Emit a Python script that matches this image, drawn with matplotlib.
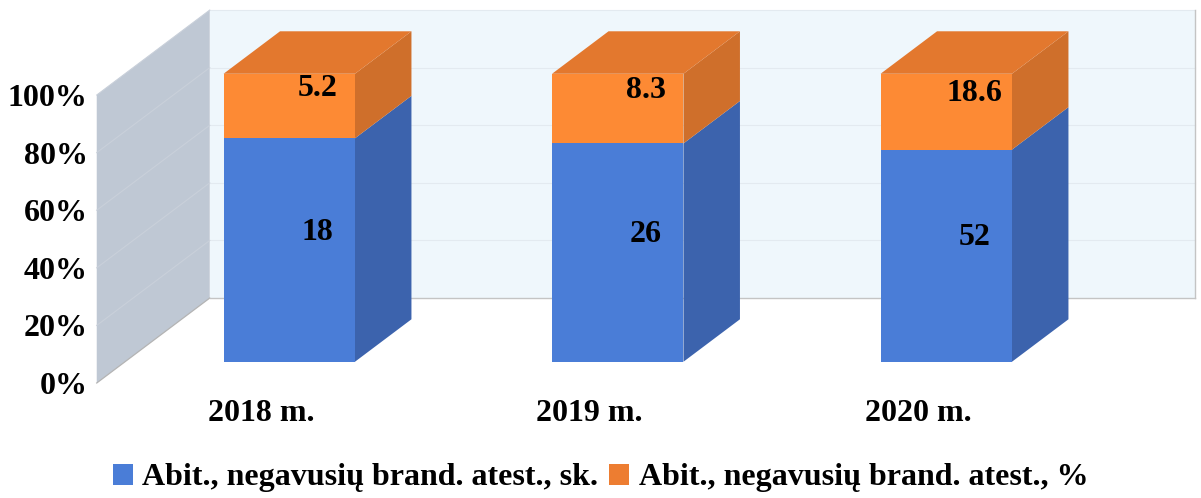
import numpy as np
import matplotlib.pyplot as plt
from matplotlib.patches import Polygon, Patch

years = ['2018 m.', '2019 m.', '2020 m.']
count_values = np.array([18, 26, 52])
pct_values = np.array([5.2, 8.3, 18.6])
series_names = ['Abit., negavusių brand. atest., sk.',
                'Abit., negavusių brand. atest., %']
y_ticks = [0, 20, 40, 60, 80, 100]

plt.rcParams['font.family'] = ['Liberation Serif', 'DejaVu Serif']
plt.rcParams['font.weight'] = 'bold'
FS = 23

# 100% stacked shares
blue_share = count_values / (count_values + pct_values) * 100
orange_share = 100 - blue_share

# fake 3d: depth offset of the whole floor (category units, percent units)
DX = 0.344
DY = 29.5
BW = 0.40  # bar width
D0, D1 = 0.25, 0.75  # bar depth range

blue_front, blue_side = '#4a7dd7', '#3c63ad'
orange_front, orange_top, orange_side = '#fd8a34', '#e3782e', '#cf6f2b'

fig = plt.figure(figsize=(12.01, 4.98), dpi=100)
ax = fig.add_axes([0, 0, 1, 1])
ax.set_xlim(-0.7945, 2.8615)
ax.set_ylim(-39.93, 132.99)
ax.axis('off')

x0, x1 = -0.5, len(years) - 0.5

# walls
ax.add_patch(Polygon([(x0, 0), (x0 + DX, DY), (x0 + DX, 100 + DY), (x0, 100)],
                     closed=True, facecolor='#bfc8d4', edgecolor='none', zorder=1))
ax.plot([x0, x0 + DX], [0, DY], color='#b4b4b4', lw=0.9, zorder=2)
ax.add_patch(Polygon([(x0 + DX, DY), (x1 + DX, DY), (x1 + DX, 100 + DY), (x0 + DX, 100 + DY)],
                     closed=True, facecolor='#eff7fc', edgecolor='none', zorder=1))
for t in y_ticks[1:]:
    ax.plot([x0 + DX, x1 + DX], [t + DY, t + DY], color='#e3eaf0', lw=0.8, zorder=2)
    ax.plot([x0, x0 + DX], [t, t + DY], color='#c9d0da', lw=0.8, zorder=2)
ax.plot([x0 + DX, x1 + DX], [DY, DY], color='#c4c4c4', lw=1.0, zorder=2)
ax.plot([x1 + DX, x1 + DX], [DY, 100 + DY], color='#c4c4c4', lw=1.0, zorder=2)

# bars
pos = np.arange(len(years))
base = D0 * DY
fx = pos + D0 * DX
ax.bar(fx, blue_share, BW, bottom=base, color=blue_front, zorder=4)
ax.bar(fx, orange_share, BW, bottom=base + blue_share, color=orange_front, zorder=4)

dd = (D1 - D0)
for i in range(len(years)):
    xr = fx[i] + BW / 2
    xl = fx[i] - BW / 2
    segs = [(base, base + blue_share[i], blue_side),
            (base + blue_share[i], base + 100, orange_side)]
    for y0, y1, col in segs:
        ax.add_patch(Polygon([(xr, y0), (xr + dd * DX, y0 + dd * DY),
                              (xr + dd * DX, y1 + dd * DY), (xr, y1)],
                             closed=True, facecolor=col, edgecolor='none', zorder=3))
    ytop = base + 100
    ax.add_patch(Polygon([(xl, ytop), (xr, ytop), (xr + dd * DX, ytop + dd * DY),
                          (xl + dd * DX, ytop + dd * DY)],
                         closed=True, facecolor=orange_top, edgecolor='none', zorder=3))

    # data labels at mid depth
    mx = pos[i] + 0.5 * DX
    ax.text(mx, 0.5 * DY + blue_share[i] / 2, f'{count_values[i]:g}',
            ha='center', va='center_baseline', fontsize=FS, zorder=6)
    ax.text(mx, 0.5 * DY + blue_share[i] + orange_share[i] / 2, f'{pct_values[i]:g}',
            ha='center', va='center_baseline', fontsize=FS, zorder=6)

# axis labels
for t in y_ticks:
    ax.text(x0 - 0.027, t, f'{t}%', ha='right', va='center_baseline', fontsize=FS)
for i, lab in enumerate(years):
    ax.text(pos[i], -9.4, lab, ha='center', va='center_baseline', fontsize=FS)

handles = [Patch(facecolor=blue_front, label=series_names[0]),
           Patch(facecolor='#ed7d31', label=series_names[1])]
fig.legend(handles=handles, ncol=2, loc='center', bbox_to_anchor=(0.5, 1 - 478 / 498),
           frameon=False, prop={'size': FS, 'weight': 'bold'},
           handlelength=0.62, handleheight=0.62, handletextpad=0.3, columnspacing=0.35)

fig.savefig('out.png', dpi=100)
